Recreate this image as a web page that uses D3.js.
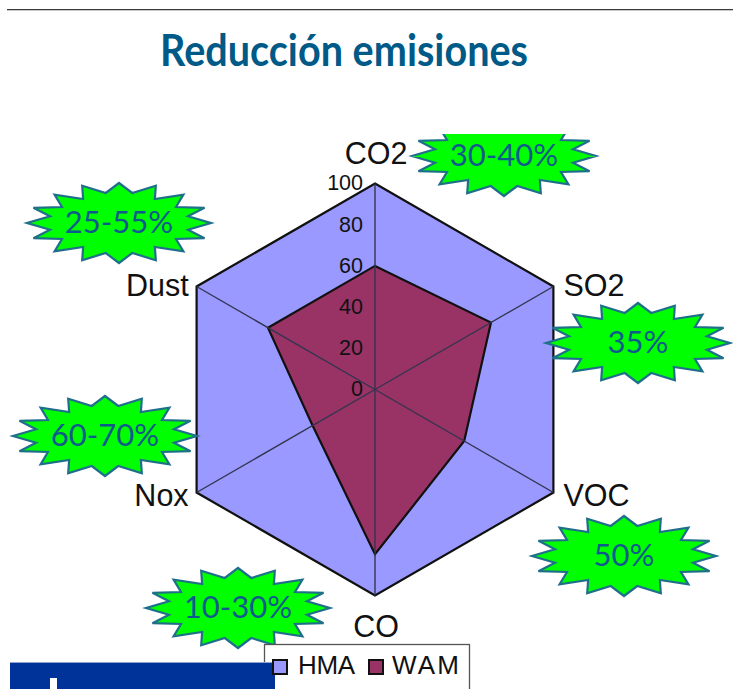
<!DOCTYPE html>
<html lang="es">
<head>
<meta charset="utf-8">
<title>Reducción emisiones</title>
<script src="https://cdn.jsdelivr.net/npm/d3@7/dist/d3.min.js"></script>
<style>
  html, body { margin: 0; padding: 0; background: #fff; overflow: hidden; }
  svg { display: block; }
</style>
</head>
<body>
<svg id="chart" width="733" height="689"></svg>
<script>
// Emission levels per pollutant, with hot mix asphalt as the 100 reference.
const pollutants = ["CO2", "SO2", "VOC", "CO", "Nox", "Dust"];
const seriesNames = ["HMA", "WAM"];
const hmaValues = [100, 100, 100, 100, 100, 100];
const wamValues = [60, 65, 50, 80, 35, 60];
const radialTicks = [0, 20, 40, 60, 80, 100];
const reductionLabels = ["30-40%", "35%", "50%", "10-30%", "60-70%", "25-55%"];

const seriesColors = ["#9999ff", "#993366"];
const svg = d3.select("#chart");
const cx = 375, cy = 389.5, outerRadius = 206;

const radius = d3.scaleLinear().domain([0, 100]).range([0, outerRadius]);
const angle = d3.scalePoint().domain(pollutants).range([0, 2 * Math.PI * 5 / 6]);

// Slide furniture: rule, heading and the footer band
svg.append("rect").attr("x", 7).attr("y", 9).attr("width", 726).attr("height", 1).attr("fill", "#3a3a3a");
svg.append("rect").attr("x", 7).attr("y", 10).attr("width", 726).attr("height", 1).attr("fill", "#c8c8c8");

svg.append("text")
  .attr("x", 160).attr("y", 66)
  .attr("textLength", 368).attr("lengthAdjust", "spacingAndGlyphs")
  .attr("font-family", "Lato, sans-serif").attr("font-weight", 700).attr("font-size", 44)
  .attr("fill", "#005a87")
  .text("Reducción emisiones");

// Radar polygons
const plot = svg.append("g").attr("transform", `translate(${cx},${cy})`);
const radar = d3.lineRadial()
  .angle((d, i) => angle(pollutants[i]))
  .radius(d => radius(d))
  .curve(d3.curveLinearClosed);

[hmaValues, wamValues].forEach((values, i) => {
  plot.append("path")
    .attr("d", radar(values))
    .attr("fill", seriesColors[i])
    .attr("stroke", "#111")
    .attr("stroke-width", 2.2)
    .attr("stroke-linejoin", "miter");
});

// Spokes
const tip = (name, v) => d3.pointRadial(angle(name), radius(v));
plot.selectAll("line.spoke")
  .data(pollutants)
  .join("line")
  .attr("class", "spoke")
  .attr("x2", d => tip(d, 100)[0])
  .attr("y2", d => tip(d, 100)[1])
  .attr("stroke", "#34344f")
  .attr("stroke-width", 1.4);

// Radial axis, running upward along the first spoke
const axis = d3.axisLeft(d3.scaleLinear().domain([0, 100]).range([0, -outerRadius]))
  .tickValues(radialTicks)
  .tickSize(0)
  .tickPadding(12);
const axisG = plot.append("g").call(axis);
axisG.select(".domain").remove();
axisG.selectAll("text")
  .attr("font-family", "'Liberation Sans', Arial, sans-serif")
  .attr("font-size", 21.5)
  .attr("dy", "0.3em")
  .attr("fill", "#111");

// Category labels placed just outside each vertex
plot.selectAll("text.category")
  .data(pollutants)
  .join("text")
  .attr("class", "category")
  .attr("font-family", "'Liberation Sans', Arial, sans-serif")
  .attr("font-size", 30.5)
  .attr("fill", "#111")
  .attr("dominant-baseline", "central")
  .attr("text-anchor", d => {
    const x = tip(d, 100)[0];
    return Math.abs(x) < 1 ? "middle" : x > 0 ? "start" : "end";
  })
  .attr("x", d => {
    const x = tip(d, 100)[0];
    return Math.abs(x) < 1 ? 1 : x + (x > 0 ? 10 : -8);
  })
  .attr("y", d => {
    const [x, y] = tip(d, 100);
    return Math.abs(x) < 1 ? y + (y < 0 ? -31 : 30) : y + (y < 0 ? -2 : 2);
  })
  .text(d => d);

// Green burst callouts: outline in unit coordinates, right half mirrored to the left
const burstRight = [
  [0, -1], [0.144, -0.75], [0.40, -0.93], [0.39, -0.60], [0.70, -0.71], [0.62, -0.40],
  [0.93, -0.38], [0.75, -0.17], [1, 0], [0.75, 0.17], [0.93, 0.38], [0.62, 0.40],
  [0.70, 0.71], [0.39, 0.60], [0.40, 0.93], [0.144, 0.75], [0, 1]
];
const burstOutline = burstRight.concat(burstRight.slice(1, -1).reverse().map(([x, y]) => [-x, y]));
const burstX = d3.scaleLinear().domain([-1, 1]).range([-92, 92]);
const burstY = d3.scaleLinear().domain([-1, 1]).range([-40, 40]);
const burstPath = d3.line().x(d => burstX(d[0])).y(d => burstY(d[1])).curve(d3.curveLinearClosed);
const burstCenters = [[504, 156], [638, 343], [624, 556], [238, 608], [105, 436], [119, 223]];

// The top of the first burst is cut off by its frame
svg.append("clipPath").attr("id", "burst-frame")
  .append("rect").attr("x", 0).attr("y", 134).attr("width", 733).attr("height", 555);

const bursts = svg.append("g").attr("clip-path", "url(#burst-frame)")
  .selectAll("g")
  .data(reductionLabels)
  .join("g")
  .attr("transform", (d, i) => `translate(${burstCenters[i]})`);
bursts.append("path")
  .attr("d", burstPath(burstOutline))
  .attr("fill", "#00ff00")
  .attr("stroke", "#1f6f8b")
  .attr("stroke-width", 2.2)
  .attr("stroke-linejoin", "miter");
bursts.append("text")
  .attr("text-anchor", "middle")
  .attr("dominant-baseline", "central")
  .attr("y", -2)
  .attr("font-family", "Lato, sans-serif")
  .attr("font-weight", 400)
  .attr("font-size", 31)
  .attr("fill", "#0f5a8c")
  .text(d => d);

// Legend box, running off the bottom edge
const legend = svg.append("g");
legend.append("rect")
  .attr("x", 264.5).attr("y", 644.5).attr("width", 205).attr("height", 60)
  .attr("fill", "#fff").attr("stroke", "#555").attr("stroke-width", 1.3);

// Footer band sits over the legend frame
svg.append("rect").attr("x", 10).attr("y", 662).attr("width", 265).attr("height", 27).attr("fill", "#003399");
svg.append("rect").attr("x", 10).attr("y", 662).attr("width", 265).attr("height", 1).attr("fill", "#8fa3d0");
svg.append("rect").attr("x", 50).attr("y", 678).attr("width", 7).attr("height", 11).attr("fill", "#fff");

const legendX = d3.scalePoint().domain(seriesNames).range([273, 369]);
const legendItems = svg.append("g").selectAll("g")
  .data(seriesNames)
  .join("g")
  .attr("transform", d => `translate(${legendX(d)},660)`);
legendItems.append("rect")
  .attr("width", 14).attr("height", 14)
  .attr("fill", (d, i) => seriesColors[i])
  .attr("stroke", "#111").attr("stroke-width", 2);
legendItems.append("text")
  .attr("x", (d, i) => i === 0 ? 25 : 23).attr("y", 14)
  .attr("textLength", (d, i) => i === 0 ? 57 : 67)
  .attr("font-family", "'Liberation Sans', Arial, sans-serif")
  .attr("font-size", 26)
  .attr("fill", "#111")
  .text(d => d);
</script>
</body>
</html>
